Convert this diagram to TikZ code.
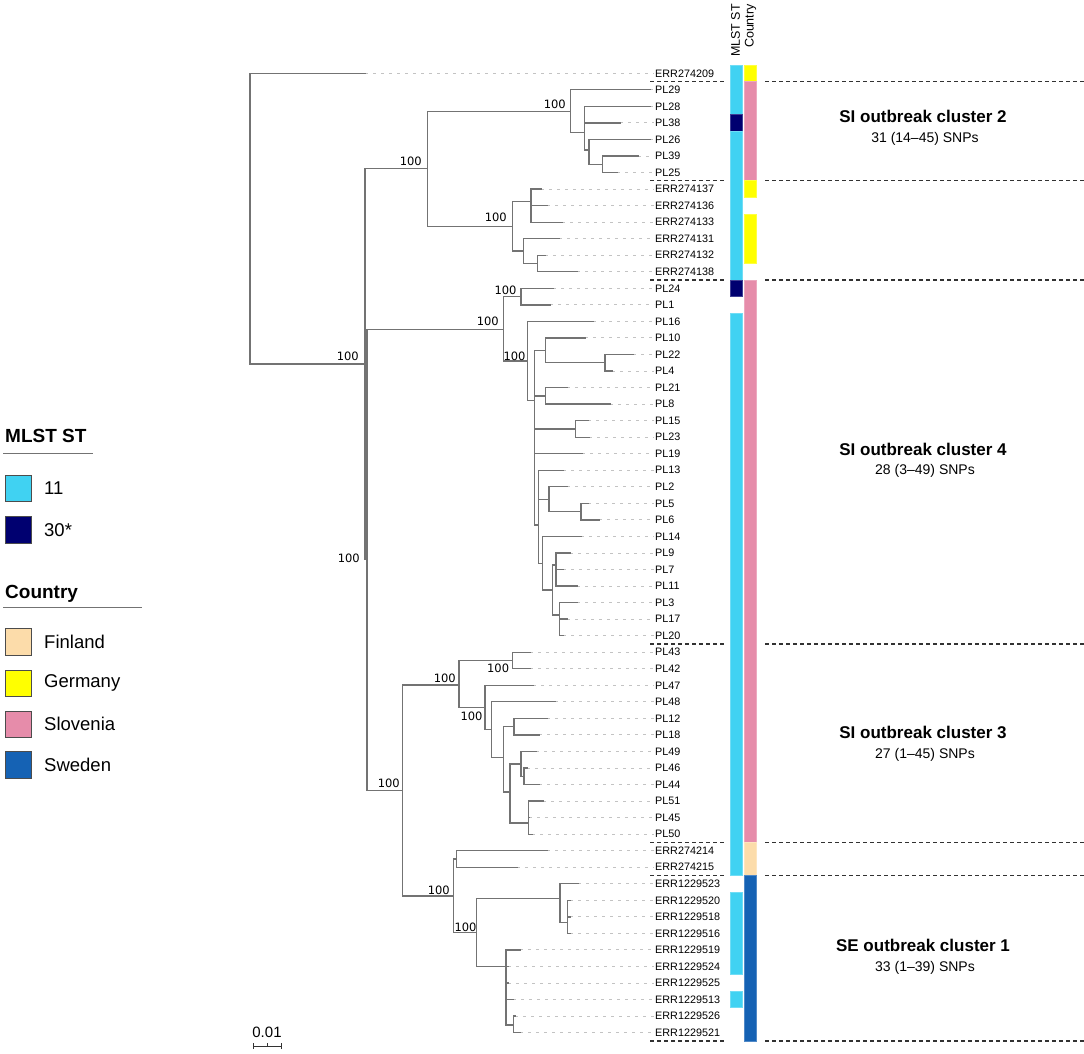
\documentclass[tikz,border=0pt]{standalone}
\usepackage{fontspec}
\setmainfont{Liberation Sans}
\newfontfamily\dvs{DejaVu Sans}
\definecolor{treegray}{RGB}{115,115,115}
\definecolor{leadgray}{RGB}{195,195,195}
\definecolor{stcyan}{RGB}{64,210,242}
\definecolor{stnavy}{RGB}{0,0,112}
\definecolor{cyellow}{RGB}{255,255,0}
\definecolor{cpink}{RGB}{230,140,170}
\definecolor{cpeach}{RGB}{252,220,170}
\definecolor{cblue}{RGB}{21,98,180}
\definecolor{sepgray}{RGB}{50,50,50}
\begin{document}
\begin{tikzpicture}[x=1pt,y=-1pt,
  branch/.style={draw=treegray,line width=1.3pt,line cap=rect},
  leader/.style={draw=leadgray,line width=0.9pt,dash pattern=on 3pt off 5pt},
  leaf/.style={anchor=west,inner sep=1pt,font=\fontsize{10.8}{12}\selectfont},
  boot/.style={anchor=base east,inner sep=0pt,font=\dvs\fontsize{11.5}{13}\selectfont},
  sepline/.style={draw=sepgray,line width=1.2pt,dash pattern=on 4pt off 3pt},
  clhead/.style={font=\bfseries\fontsize{17}{20}\selectfont},
  clsub/.style={font=\fontsize{14}{17}\selectfont},
  legsq/.style={draw=black!70,line width=0.7pt},
  legtxt/.style={anchor=west,inner sep=0pt,font=\fontsize{18.5}{22}\selectfont},
  leghead/.style={anchor=west,inner sep=0pt,font=\bfseries\fontsize{19}{22}\selectfont},
  colhead/.style={rotate=90,anchor=east,inner sep=0pt,font=\fontsize{12.5}{14}\selectfont}]
\useasboundingbox (0,0) rectangle (1084,1053);

% ---------- leaves ----------
\foreach \i/\n/\e in {
 0/ERR274209/365, 1/PL29/650, 2/PL28/650, 3/PL38/620, 4/PL26/650, 5/PL39/638,
 6/PL25/617, 7/ERR274137/541, 8/ERR274136/547, 9/ERR274133/562, 10/ERR274131/559,
 11/ERR274132/545, 12/ERR274138/577, 13/PL24/553, 14/PL1/550, 15/PL16/593,
 16/PL10/585, 17/PL22/633, 18/PL4/612, 19/PL21/567, 20/PL8/610, 21/PL15/588,
 22/PL23/589, 23/PL19/582, 24/PL13/563, 25/PL2/567, 26/PL5/588, 27/PL6/599,
 28/PL14/581, 29/PL9/570, 30/PL7/563, 31/PL11/577, 32/PL3/577, 33/PL17/567,
 34/PL20/563, 35/PL43/530, 36/PL42/530, 37/PL47/533, 38/PL48/555, 39/PL12/547,
 40/PL18/539, 41/PL49/536, 42/PL46/527, 43/PL44/539, 44/PL51/543, 45/PL45/529,
 46/PL50/532, 47/ERR274214/547, 48/ERR274215/517, 49/ERR1229523/578,
 50/ERR1229520/570, 51/ERR1229518/570, 52/ERR1229516/570, 53/ERR1229519/520,
 54/ERR1229524/508, 55/ERR1229525/508, 56/ERR1229513/513, 57/ERR1229526/515,
 58/ERR1229521/520}{
  \node[leaf] (\n) at (654,{73.3+16.54*\i}) {\n};
  \coordinate (e\n) at (\e,{73.3+16.54*\i});
  \draw[leader] (e\n) -- (\n.west);
}

% ---------- internal nodes ----------
\coordinate (root) at (250,73.3);
\coordinate (A) at (365,364);
\coordinate (B) at (427.7,168.5);
\coordinate (R) at (570.7,111.7);
\coordinate (S) at (584.3,132.3);
\coordinate (T) at (589,150);
\coordinate (U) at (602.7,164.2);
\coordinate (V) at (512.3,226.4);
\coordinate (W) at (531,201.7);
\coordinate (X) at (523.3,251);
\coordinate (Y) at (537.3,263.5);
\coordinate (C) at (367,559.7);
\coordinate (D) at (503.3,329.3);
\coordinate (G) at (521,296.6);
\coordinate (F) at (527.7,361);
\coordinate (H) at (534.3,400.7);
\coordinate (I) at (545.7,350.5);
\coordinate (L) at (605,362.7);
\coordinate (J) at (545.7,395.9);
\coordinate (M) at (575.7,428.9);
\coordinate (K) at (538.3,525);
\coordinate (N) at (549,499.3);
\coordinate (P) at (581,511.6);
\coordinate (Q) at (542.3,563.5);
\coordinate (RR) at (552.3,590);
\coordinate (QQ) at (556,565);
\coordinate (QR) at (559.7,615);
\coordinate (E) at (402.7,790.8);
\coordinate (Z) at (459,685);
\coordinate (AA) at (512.3,660.5);
\coordinate (AB) at (485,707.3);
\coordinate (AC) at (491.7,729.8);
\coordinate (AD) at (503.3,757.7);
\coordinate (AE) at (514,726.7);
\coordinate (AF) at (510,792);
\coordinate (AG) at (521,764.1);
\coordinate (AI) at (524,776.3);
\coordinate (AH) at (528.3,823);
\coordinate (BA) at (453.3,896);
\coordinate (BC) at (456.7,859);
\coordinate (BB) at (476.7,932.5);
\coordinate (BD) at (560,898.3);
\coordinate (BE) at (567.7,922.7);
\coordinate (BF) at (506,966.7);
\coordinate (BG) at (513.3,1025);

% ---------- branches ----------
\foreach \p/\cs in {
 root/{eERR274209,A}, A/{B,C}, B/{R,V}, R/{ePL29,S}, S/{ePL28,ePL38,T},
 T/{ePL26,U}, U/{ePL39,ePL25}, V/{W,X}, W/{eERR274137,eERR274136,eERR274133},
 X/{eERR274131,Y}, Y/{eERR274132,eERR274138},
 C/{D,E}, D/{G,F}, G/{ePL24,ePL1}, F/{ePL16,H}, H/{I,J,M,ePL19,K},
 I/{ePL10,L}, L/{ePL22,ePL4}, J/{ePL21,ePL8}, M/{ePL15,ePL23},
 K/{ePL13,N,Q}, N/{ePL2,P}, P/{ePL5,ePL6}, Q/{ePL14,RR}, RR/{QQ,QR},
 QQ/{ePL9,ePL7,ePL11}, QR/{ePL3,ePL17,ePL20},
 E/{Z,BA}, Z/{AA,AB}, AA/{ePL43,ePL42}, AB/{ePL47,AC}, AC/{ePL48,AD},
 AD/{AE,AF}, AE/{ePL12,ePL18}, AF/{AG,AH}, AG/{ePL49,AI}, AI/{ePL46,ePL44},
 AH/{ePL51,ePL45,ePL50},
 BA/{BC,BB}, BC/{eERR274214,eERR274215}, BB/{BD,BF},
 BD/{eERR1229523,BE}, BE/{eERR1229520,eERR1229518,eERR1229516},
 BF/{eERR1229519,eERR1229524,eERR1229525,eERR1229513,BG},
 BG/{eERR1229526,eERR1229521}}{
  \foreach \c in \cs {\draw[branch] (\p) |- (\c);}
}

% ---------- bootstrap labels ----------
\node[boot] (bA) at (359,360) {100};
\node[boot] (bC) at (360,562) {100};
\node[boot] (bB) at (422,165) {100};
\node[boot] (bR) at (566,108) {100};
\node[boot] (bV) at (507,221.7) {100};
\node[boot] (bD) at (499,325.7) {100};
\node[boot] (bG) at (516.7,294.3) {100};
\node[boot] (bF) at (525.7,360) {100};
\node[boot] (bE) at (400,787) {100};
\node[boot] (bZ) at (456,682.3) {100};
\node[boot] (bAA) at (509.3,672.7) {100};
\node[boot] (bAB) at (482.7,720) {100};
\node[boot] (bBA) at (450,894) {100};
\node[boot] (bBB) at (476.7,931.5) {100};

% ---------- heat strips ----------
\foreach \a/\b/\c in {0/2/stcyan,3/3/stnavy,4/12/stcyan,13/13/stnavy,
  15/48/stcyan,50/54/stcyan,56/56/stcyan}{
  \draw[fill=\c,draw=\c!75!white,line width=0.7pt]
    (730.5,{65.03+16.54*\a}) rectangle (742,{65.03+16.54*(\b+1)});
}
\foreach \a/\b/\c in {0/0/cyellow,1/6/cpink,7/7/cyellow,9/11/cyellow,
  13/46/cpink,47/48/cpeach,49/58/cblue}{
  \draw[fill=\c,draw=\c!75!white,line width=0.7pt]
    (744.3,{65.03+16.54*\a}) rectangle (756.3,{65.03+16.54*(\b+1)});
}
\node[colhead] (hST) at (735.5,4) {MLST ST};
\node[colhead] (hCo) at (750.5,4) {Country};

% ---------- cluster separators ----------
\foreach \r in {1,7,13,35,47,49,59}{
  \draw[sepline] (650,{65.03+16.54*\r}) -- (725,{65.03+16.54*\r});
  \draw[sepline] (765,{65.03+16.54*\r}) -- (1084,{65.03+16.54*\r});
}

% ---------- cluster labels ----------
\node[clhead] (c2) at (923,116) {SI outbreak cluster 2};
\node[clsub] (c2s) at (925,139) {31 (14–45) SNPs};
\node[clhead] (c4) at (923,449) {SI outbreak cluster 4};
\node[clsub] (c4s) at (925,471) {28 (3–49) SNPs};
\node[clhead] (c3) at (923,732) {SI outbreak cluster 3};
\node[clsub] (c3s) at (925,755) {27 (1–45) SNPs};
\node[clhead] (c1) at (923,945) {SE outbreak cluster 1};
\node[clsub] (c1s) at (925,968) {33 (1–39) SNPs};

% ---------- legend ----------
\node[leghead] (lST) at (5,436) {MLST ST};
\draw[draw=black!55,line width=1.4pt] (3,453.3) -- (93,453.3);
\draw[legsq,fill=stcyan] (5,475) rectangle (31,501.7);
\node[legtxt] (l11) at (44,488) {11};
\draw[legsq,fill=stnavy] (5,516.5) rectangle (31,543.3);
\node[legtxt] (l30) at (44,530) {30*};
\node[leghead] (lCo) at (5,593.5) {Country};
\draw[draw=black!55,line width=1.4pt] (3,607.7) -- (141.7,607.7);
\draw[legsq,fill=cpeach] (5,628.3) rectangle (31,655.7);
\node[legtxt] (lFi) at (44,642) {Finland};
\draw[legsq,fill=cyellow] (5,670) rectangle (31,696.7);
\node[legtxt] (lGe) at (44,683.3) {Germany};
\draw[legsq,fill=cpink] (5,711) rectangle (31,737.7);
\node[legtxt] (lSl) at (44,724.3) {Slovenia};
\draw[legsq,fill=cblue] (5,751.7) rectangle (31,778.3);
\node[legtxt] (lSw) at (44,765) {Sweden};

% ---------- scale bar ----------
\node[font=\fontsize{15}{18}\selectfont,inner sep=0pt] (sc) at (267,1032) {0.01};
\coordinate (sb1) at (253.3,1046);
\coordinate (sb2) at (281,1046);
\draw[draw=black!80,line width=1pt] (sb1) -- (sb2);
\draw[draw=black!80,line width=1pt] ([yshift=-3pt]sb1) -- ([yshift=3pt]sb1);
\draw[draw=black!80,line width=1pt] ([yshift=-3pt]sb2) -- ([yshift=3pt]sb2);
\draw[draw=black!80,line width=1pt] (267.2,1046) -- (267.2,1043);
\end{tikzpicture}
\end{document}
